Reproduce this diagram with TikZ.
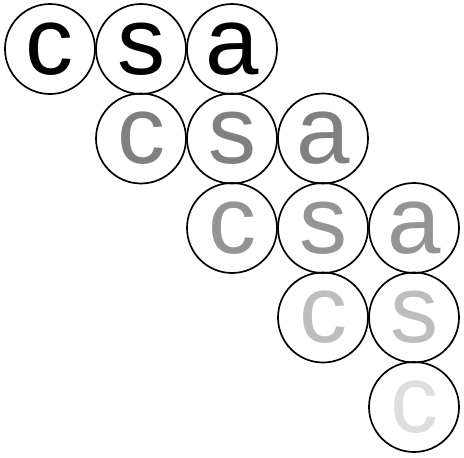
\documentclass[tikz,border=0pt]{standalone}
\usepackage{fontspec}
\setmainfont{Liberation Sans}
\usetikzlibrary{calc}

\begin{document}
\begin{tikzpicture}[x=1pt,y=-1pt]
	% Parameters for the staircase of letters (edit these to taste)
	\def\dx{91}      % horizontal step between circles
	\def\dy{89.5}    % vertical step between rows
	\def\rad{45pt}   % circle radius
	\tikzset{letter/.style={draw=black, circle, line width=1.7pt, minimum size=2*\rad, inner sep=0pt, font=\fontsize{96}{96}\selectfont}}
	
	\useasboundingbox (0,0) rectangle (464,458);
	
	% Each row starts one step further right and one step lower, and fades out
	\foreach \r/\col/\word in {0/black/{c,s,a},1/black!50/{c,s,a},2/black!42/{c,s,a},3/black!26/{c,s},4/black!13/{c}}{
		\foreach \ch [count=\j from 0] in \word{
			\node[letter, text=\col] (\ch\r) at ({50+(\r+\j)*\dx},{49+\r*\dy}) {\ch};
		}
	}
\end{tikzpicture}
\end{document}
